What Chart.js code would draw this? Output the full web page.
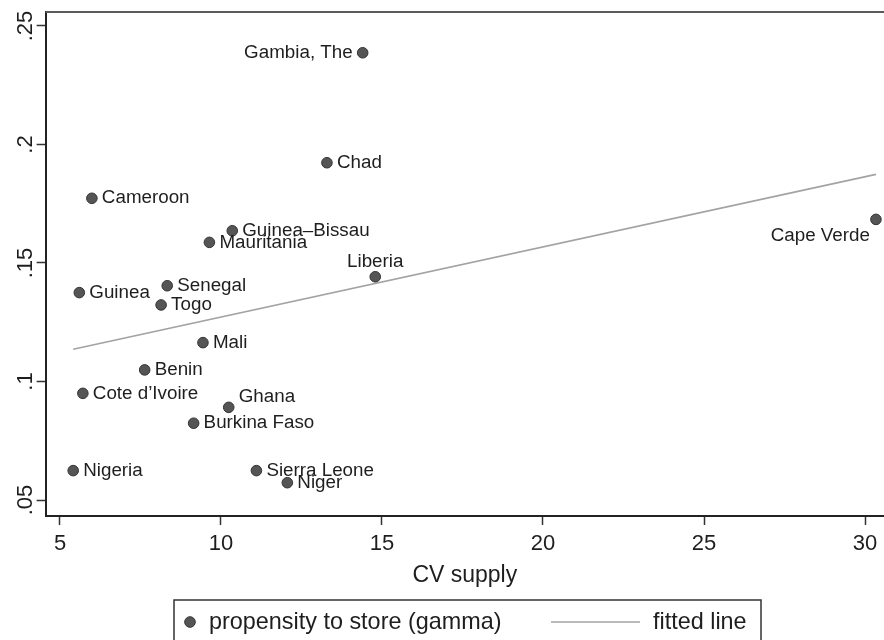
<!DOCTYPE html>
<html>
<head>
<meta charset="utf-8">
<script src="https://cdn.jsdelivr.net/npm/chart.js@4.4.1/dist/chart.umd.min.js"></script>
<style>
  html, body { margin: 0; padding: 0; background: #fff; }
  #wrap { width: 884px; height: 640px; position: relative; }
</style>
</head>
<body>
<div id="wrap"><canvas id="grafica" width="884" height="640"></canvas></div>
<script>
// Datos
const paises = ["Gambia, The", "Chad", "Cameroon", "Guinea\u2013Bissau", "Mauritania", "Liberia",
    "Cape Verde", "Guinea", "Senegal", "Togo", "Mali", "Benin", "Cote d\u2019Ivoire", "Ghana",
    "Burkina Faso", "Nigeria", "Sierra Leone", "Niger"];
const cvSupply = [14.40, 13.29, 5.99, 10.35, 9.64, 14.79, 30.34, 5.60, 8.33, 8.14, 9.44, 7.63,
    5.71, 10.24, 9.15, 5.41, 11.10, 12.06];
const gamma = [0.2387, 0.1923, 0.1773, 0.1636, 0.1587, 0.1442, 0.1684, 0.1375, 0.1404, 0.1323,
    0.1164, 0.1049, 0.0950, 0.0891, 0.0824, 0.0624, 0.0624, 0.0573];
// Recta ajustada (extremos leídos)
const rectaX = [5.41, 30.34];
const rectaY = [0.1136, 0.1874];
// Ticks
const xTicks = [5, 10, 15, 20, 25, 30];
const yTicks = [0.05, 0.1, 0.15, 0.2, 0.25];
const yTickLabels = [".05", ".1", ".15", ".2", ".25"];
// Posición de la etiqueta (reloj, como en Stata)
const posEtiqueta = [9, 3, 3, 3, 3, 12, 7, 3, 3, 3, 3, 3, 3, 2, 3, 3, 3, 3];

const FUENTE = "'Liberation Sans', Arial, Helvetica, sans-serif";

const etiquetasPlugin = {
    id: "etiquetas",
    afterDatasetsDraw(chart) {
        const ctx = chart.ctx;
        const meta = chart.getDatasetMeta(0);
        ctx.save();
        ctx.font = "18.8px " + FUENTE;
        ctx.fillStyle = "#1e1e1e";
        meta.data.forEach((pt, i) => {
            const p = posEtiqueta[i];
            let x = pt.x, y = pt.y;
            if (p === 3) { ctx.textAlign = "left"; ctx.textBaseline = "middle"; x += 10; }
            else if (p === 9) { ctx.textAlign = "right"; ctx.textBaseline = "middle"; x -= 10; }
            else if (p === 12) { ctx.textAlign = "center"; ctx.textBaseline = "middle"; y -= 15; }
            else if (p === 7) { ctx.textAlign = "right"; ctx.textBaseline = "middle"; x -= 6; y += 16; }
            else if (p === 2) { ctx.textAlign = "left"; ctx.textBaseline = "middle"; x += 10; y -= 10.5; }
            ctx.fillText(paises[i], x, y);
        });
        ctx.restore();
    }
};

const marcoPlugin = {
    id: "marco",
    afterDraw(chart) {
        const ctx = chart.ctx;
        const a = chart.chartArea;
        ctx.save();
        // línea superior
        ctx.strokeStyle = "#5a5a5a";
        ctx.lineWidth = 2;
        ctx.beginPath();
        ctx.moveTo(a.left, a.top);
        ctx.lineTo(chart.width, a.top);
        ctx.stroke();

        // leyenda
        const ds0 = chart.data.datasets[0];
        const ds1 = chart.data.datasets[1];
        const yc = 622;
        ctx.strokeStyle = "#333";
        ctx.lineWidth = 1.5;
        ctx.strokeRect(174, 600, 587, 60);
        ctx.beginPath();
        ctx.arc(190, yc, 5.3, 0, Math.PI * 2);
        ctx.fillStyle = ds0.backgroundColor;
        ctx.fill();
        ctx.lineWidth = 1;
        ctx.strokeStyle = ds0.borderColor;
        ctx.stroke();
        ctx.beginPath();
        ctx.moveTo(551, yc);
        ctx.lineTo(640, yc);
        ctx.strokeStyle = ds1.borderColor;
        ctx.lineWidth = ds1.borderWidth;
        ctx.stroke();
        ctx.font = "23.4px " + FUENTE;
        ctx.fillStyle = "#1e1e1e";
        ctx.textAlign = "left";
        ctx.textBaseline = "middle";
        ctx.fillText(ds0.label, 209, yc + 1);
        ctx.fillText(ds1.label, 653, yc + 1);
        ctx.restore();
    }
};

const ctx = document.getElementById("grafica").getContext("2d");
new Chart(ctx, {
    type: "scatter",
    data: {
        datasets: [
            {
                label: "propensity to store (gamma)",
                data: cvSupply.map((x, i) => ({ x: x, y: gamma[i] })),
                backgroundColor: "#555555",
                borderColor: "#333333",
                borderWidth: 1,
                pointRadius: 5.3,
                pointHoverRadius: 5.3,
                clip: false
            },
            {
                label: "fitted line",
                type: "line",
                data: rectaX.map((x, i) => ({ x: x, y: rectaY[i] })),
                borderColor: "#a3a3a3",
                borderWidth: 1.6,
                pointRadius: 0,
                fill: false
            }
        ]
    },
    options: {
        responsive: false,
        animation: false,
        events: [],
        layout: { autoPadding: false, padding: { top: 12, right: 0, left: 0, bottom: 40 } },
        plugins: { legend: { display: false }, tooltip: { enabled: false } },
        scales: {
            x: {
                type: "linear",
                min: 4.553,
                max: 30.59,
                afterBuildTicks: (s) => { s.ticks = xTicks.map(v => ({ value: v })); },
                afterFit: (s) => { s.height = 84; s.paddingLeft = 0; s.paddingRight = 0; },
                grid: { drawOnChartArea: false, tickLength: 9, color: "#333", tickWidth: 1.5 },
                border: { color: "#222", width: 2 },
                ticks: {
                    font: { family: FUENTE, size: 22 }, color: "#1e1e1e", padding: 6,
                    maxRotation: 0, autoSkip: false
                },
                title: {
                    display: true, text: "CV supply",
                    font: { family: FUENTE, size: 23 }, color: "#1e1e1e",
                    padding: { top: 4, bottom: 11 }
                }
            },
            y: {
                min: 0.04325,
                max: 0.2559,
                afterBuildTicks: (s) => { s.ticks = yTicks.map(v => ({ value: v })); },
                afterFit: (s) => { s.width = 45.6; s.paddingTop = 0; s.paddingBottom = 0; },
                grid: { drawOnChartArea: false, tickLength: 9, color: "#333", tickWidth: 1.5 },
                border: { color: "#222", width: 2 },
                ticks: {
                    font: { family: FUENTE, size: 22 }, color: "#1e1e1e",
                    minRotation: 90, maxRotation: 90, crossAlign: "center", padding: -5,
                    autoSkip: false,
                    callback: (v) => {
                        const i = yTicks.findIndex(t => Math.abs(t - v) < 1e-9);
                        return i >= 0 ? yTickLabels[i] : "";
                    }
                }
            }
        }
    },
    plugins: [etiquetasPlugin, marcoPlugin]
});
</script>
</body>
</html>
